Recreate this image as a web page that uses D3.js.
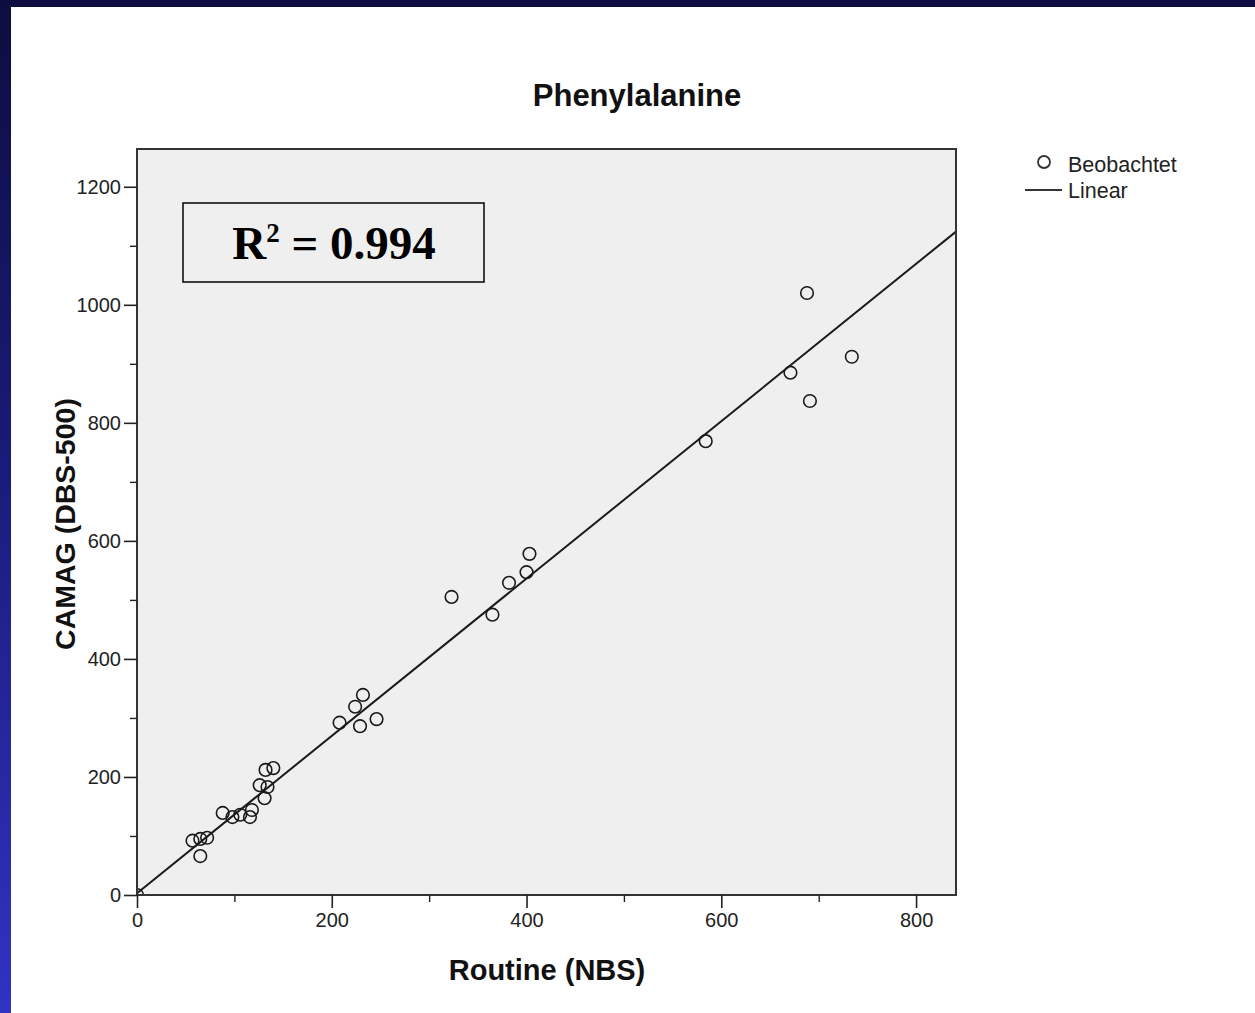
<!DOCTYPE html>
<html>
<head>
<meta charset="utf-8">
<script src="https://cdn.jsdelivr.net/npm/d3@7/dist/d3.min.js"></script>
<style>
  html, body { margin: 0; padding: 0; }
  body {
    width: 1255px; height: 1013px; overflow: hidden;
    background: linear-gradient(to bottom, #0d0d40 0%, #1a1a78 45%, #3232c4 100%);
  }
  #panel { position: absolute; left: 11px; top: 7px; width: 1244px; height: 1006px; background: #ffffff; }
  svg { position: absolute; left: 0; top: 0; }
</style>
</head>
<body>
<div id="panel"></div>
<svg id="chart" width="1255" height="1013" font-family="Arial, 'Liberation Sans', sans-serif"></svg>
<script>
// Phenylalanine: routine newborn screening (NBS) vs. CAMAG DBS-500
const routineNBS = [688, 734, 671, 691, 584, 403, 400, 382, 323, 365,
                    232, 224, 208, 229, 246, 132, 140, 126, 134, 131,
                    88, 98, 106, 118, 116, 57, 65, 72, 65, 0];
const camagDBS   = [1020, 912, 885, 837, 769, 578, 547, 529, 505, 475,
                    339, 319, 292, 286, 298, 212, 215, 186, 183, 164,
                    139, 132, 136, 144, 132, 92, 95, 97, 66, 0];
// fitted linear model
const fitIntercept = 3;
const fitSlope = 1.333;
const rSquared = "0.994";

const xTicks = [0, 200, 400, 600, 800];
const xMinorTicks = [100, 300, 500, 700];
const yTicks = [0, 200, 400, 600, 800, 1000, 1200];
const yMinorTicks = [100, 300, 500, 700, 900, 1100];
const legendLabels = ["Beobachtet", "Linear"];

const svg = d3.select("#chart");
const plot = { left: 137, top: 149, right: 956, bottom: 895 };

const x = d3.scaleLinear().domain([0, 841]).range([plot.left, plot.right]);
const y = d3.scaleLinear().domain([0, 1264]).range([plot.bottom, plot.top]);

// plot area
svg.append("rect")
  .attr("x", plot.left).attr("y", plot.top)
  .attr("width", plot.right - plot.left).attr("height", plot.bottom - plot.top)
  .attr("fill", "#efefef");

svg.append("defs").append("clipPath").attr("id", "clip")
  .append("rect")
  .attr("x", plot.left).attr("y", plot.top)
  .attr("width", plot.right - plot.left).attr("height", plot.bottom - plot.top);

const inner = svg.append("g").attr("clip-path", "url(#clip)");

// regression line
const xDom = x.domain();
inner.append("line")
  .attr("x1", x(xDom[0])).attr("y1", y(fitIntercept + fitSlope * xDom[0]))
  .attr("x2", x(xDom[1])).attr("y2", y(fitIntercept + fitSlope * xDom[1]))
  .attr("stroke", "#1a1a1a").attr("stroke-width", 2);

// observed points
inner.selectAll("circle.obs")
  .data(routineNBS.map((v, i) => [v, camagDBS[i]]))
  .join("circle")
  .attr("class", "obs")
  .attr("cx", d => x(d[0])).attr("cy", d => y(d[1]))
  .attr("r", 6.3)
  .attr("fill", "none").attr("stroke", "#1a1a1a").attr("stroke-width", 1.6);

// frame
svg.append("rect")
  .attr("x", plot.left).attr("y", plot.top)
  .attr("width", plot.right - plot.left).attr("height", plot.bottom - plot.top)
  .attr("fill", "none").attr("stroke", "#333").attr("stroke-width", 2);

// axes
const fmt = d3.format("d");
const xAxis = d3.axisBottom(x).tickValues(xTicks).tickFormat(fmt).tickSize(13).tickSizeOuter(0).tickPadding(5);
const gx = svg.append("g").attr("transform", `translate(0,${plot.bottom})`).call(xAxis);
gx.select(".domain").remove();
gx.selectAll(".tick line").attr("stroke", "#222").attr("stroke-width", 1.6);
gx.selectAll(".tick text").attr("font-size", 20).attr("fill", "#222")
  .attr("font-family", "Arial, 'Liberation Sans', sans-serif");
svg.append("g").attr("transform", `translate(0,${plot.bottom})`)
  .call(d3.axisBottom(x).tickValues(xMinorTicks).tickSize(7).tickFormat(""))
  .call(g => g.select(".domain").remove())
  .selectAll(".tick line").attr("stroke", "#222").attr("stroke-width", 1.4);

const yAxis = d3.axisLeft(y).tickValues(yTicks).tickFormat(fmt).tickSize(13).tickSizeOuter(0).tickPadding(3);
const gy = svg.append("g").attr("transform", `translate(${plot.left},0)`).call(yAxis);
gy.select(".domain").remove();
gy.selectAll(".tick line").attr("stroke", "#222").attr("stroke-width", 1.6);
gy.selectAll(".tick text").attr("font-size", 20).attr("fill", "#222")
  .attr("font-family", "Arial, 'Liberation Sans', sans-serif");
svg.append("g").attr("transform", `translate(${plot.left},0)`)
  .call(d3.axisLeft(y).tickValues(yMinorTicks).tickSize(7).tickFormat(""))
  .call(g => g.select(".domain").remove())
  .selectAll(".tick line").attr("stroke", "#222").attr("stroke-width", 1.4);

// titles
svg.append("text").attr("x", 637).attr("y", 106)
  .attr("text-anchor", "middle").attr("font-size", 31).attr("font-weight", "bold")
  .attr("fill", "#111").text("Phenylalanine");

svg.append("text").attr("x", 547).attr("y", 980)
  .attr("text-anchor", "middle").attr("font-size", 29).attr("font-weight", "bold")
  .attr("fill", "#111").text("Routine (NBS)");

svg.append("text")
  .attr("transform", "translate(75,524) rotate(-90)")
  .attr("text-anchor", "middle").attr("font-size", 28.5).attr("font-weight", "bold")
  .attr("fill", "#111").text("CAMAG (DBS-500)");

// R² annotation
svg.append("rect").attr("x", 183).attr("y", 203).attr("width", 301).attr("height", 79)
  .attr("fill", "none").attr("stroke", "#111").attr("stroke-width", 1.6);
const rt = svg.append("text").attr("x", 334).attr("y", 259)
  .attr("text-anchor", "middle").attr("font-size", 47).attr("font-weight", "bold")
  .attr("font-family", "'Liberation Serif', 'Times New Roman', serif").attr("fill", "#000");
rt.append("tspan").text("R");
rt.append("tspan").attr("font-size", 27).attr("dy", -17).text("2");
rt.append("tspan").attr("dy", 17).text(" = " + rSquared);

// legend
const lg = svg.append("g");
lg.append("circle").attr("cx", 1044).attr("cy", 162).attr("r", 6)
  .attr("fill", "none").attr("stroke", "#333").attr("stroke-width", 1.8);
lg.append("line").attr("x1", 1025).attr("x2", 1062).attr("y1", 190).attr("y2", 190)
  .attr("stroke", "#333").attr("stroke-width", 2);
lg.selectAll("text.lab").data(legendLabels).join("text")
  .attr("class", "lab")
  .attr("x", 1068).attr("y", (d, i) => 172 + i * 26)
  .attr("font-size", 21.5).attr("fill", "#222").text(d => d);
</script>
</body>
</html>
